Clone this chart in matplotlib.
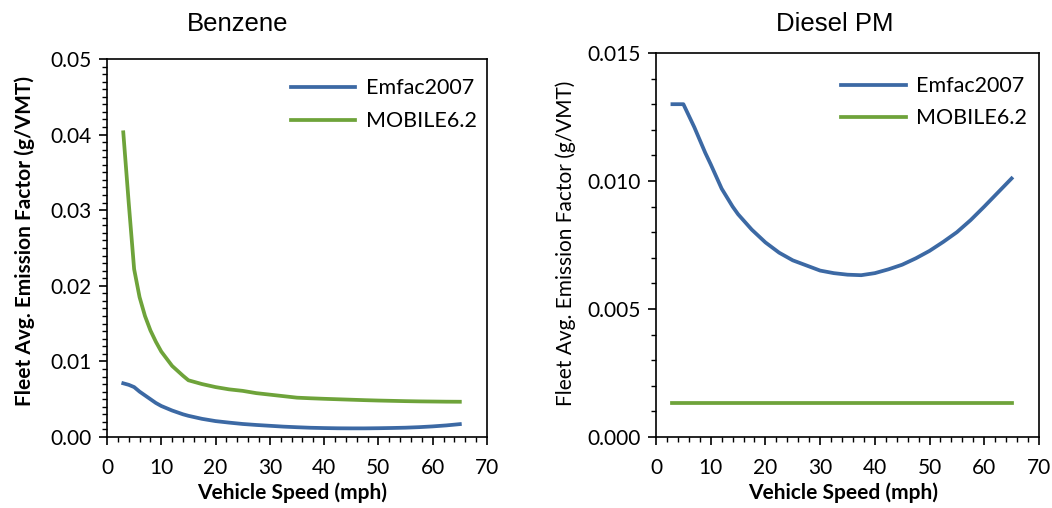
import matplotlib
matplotlib.use("Agg")
import matplotlib.pyplot as plt
from matplotlib.ticker import MultipleLocator, FormatStrFormatter

# speeds shared by every series (mph)
speed = [3, 4, 5, 6, 7, 8, 9, 10, 12, 14, 15, 17.5, 20, 22.5, 25, 27.5, 30, 32.5, 35,
         37.5, 40, 42.5, 45, 47.5, 50, 52.5, 55, 57.5, 60, 62.5, 65]

# Benzene, g/VMT
benzene_emfac = [0.0071, 0.0069, 0.0066, 0.0060, 0.0055, 0.0050, 0.0045, 0.0041, 0.0035,
                 0.0030, 0.0028, 0.0024, 0.0021, 0.00190, 0.00172, 0.00159, 0.00148, 0.00137,
                 0.00129, 0.00122, 0.00118, 0.00115, 0.00114, 0.00114, 0.00116, 0.00119,
                 0.00123, 0.00130, 0.00140, 0.00153, 0.0017]
benzene_mobile = [0.0403, 0.0310, 0.0222, 0.0185, 0.0160, 0.0141, 0.0126, 0.0113, 0.0094,
                  0.0081, 0.0075, 0.0070, 0.0066, 0.0063, 0.0061, 0.0058, 0.0056, 0.0054,
                  0.0052, 0.00512, 0.00505, 0.00499, 0.00493, 0.00487, 0.00482, 0.00478,
                  0.00474, 0.00471, 0.00469, 0.00467, 0.00466]

# Diesel PM, g/VMT
dpm_emfac = [0.0130, 0.0130, 0.0130, 0.01255, 0.0121, 0.0116, 0.0111, 0.01065, 0.0097,
             0.0090, 0.0087, 0.0081, 0.0076, 0.0072, 0.0069, 0.0067, 0.00650, 0.00640,
             0.00634, 0.00632, 0.00640, 0.00655, 0.00673, 0.00698, 0.00727, 0.00762,
             0.00800, 0.00847, 0.00900, 0.00955, 0.0101]
dpm_mobile = [0.00134] * len(speed)

series_names = ["Emfac2007", "MOBILE6.2"]
BLUE = "#3c69a4"
GREEN = "#6ea33a"

TITLE_FONT = "Liberation Sans"
BODY_FONT = "Lato"

fig = plt.figure(figsize=(10.52, 5.08), dpi=100)
ax1 = fig.add_axes([0.1017, 0.1398, 0.3612, 0.7441])
ax2 = fig.add_axes([0.6236, 0.1398, 0.3640, 0.7559])


def style_axis(ax, ymax, ymajor, yminor, yfmt):
    ax.set_xlim(0, 70)
    ax.set_ylim(0, ymax)
    ax.xaxis.set_major_locator(MultipleLocator(10))
    ax.xaxis.set_minor_locator(MultipleLocator(2))
    ax.yaxis.set_major_locator(MultipleLocator(ymajor))
    ax.yaxis.set_minor_locator(MultipleLocator(yminor))
    ax.yaxis.set_major_formatter(FormatStrFormatter(yfmt))
    ax.tick_params(which="major", direction="out", length=6, width=1.2,
                   labelsize=15)
    ax.tick_params(axis="x", which="major", pad=9)
    ax.tick_params(axis="y", which="major", pad=5)
    ax.tick_params(which="minor", direction="out", length=3.5, width=1.0)
    for lab in ax.get_xticklabels() + ax.get_yticklabels():
        lab.set_fontfamily(BODY_FONT)
    for sp in ax.spines.values():
        sp.set_linewidth(1.2)
        sp.set_color("black")


ax1.plot(speed, benzene_emfac, color=BLUE, lw=2.7, label=series_names[0])
ax1.plot(speed, benzene_mobile, color=GREEN, lw=2.7, label=series_names[1])
style_axis(ax1, 0.05, 0.01, 0.001, "%.2f")

ax2.plot(speed, dpm_emfac, color=BLUE, lw=2.7, label=series_names[0])
ax2.plot(speed, dpm_mobile, color=GREEN, lw=2.7, label=series_names[1])
style_axis(ax2, 0.015, 0.005, 0.001, "%.3f")

ax1.legend(loc="upper right", frameon=False, handlelength=3.0, handletextpad=0.5,
           labelspacing=0.6, bbox_to_anchor=(1.025, 1.0),
           prop={"family": BODY_FONT, "size": 15.5})
ax2.legend(loc="upper right", frameon=False, handlelength=3.0, handletextpad=0.5,
           labelspacing=0.55, bbox_to_anchor=(1.02, 0.99),
           prop={"family": BODY_FONT, "size": 15.5})

W, H = 1052, 508
ylab = "Fleet Avg. Emission Factor (g/VMT)"
fig.text(25 / W, 1 - 241 / H, ylab, family=BODY_FONT, fontsize=15, fontweight="bold",
         rotation=90, ha="center", va="center")
fig.text(566 / W, 1 - 243 / H, ylab, family=BODY_FONT, fontsize=15,
         rotation=90, ha="center", va="center")
fig.text(292 / W, 1 - 493 / H, "Vehicle Speed (mph)", family=BODY_FONT, fontsize=15,
         fontweight="bold", ha="center", va="center")
fig.text(843 / W, 1 - 493 / H, "Vehicle Speed (mph)", family=BODY_FONT, fontsize=15,
         fontweight="bold", ha="center", va="center")

fig.text(238 / W, 1 - 24 / H, "Benzene", family=TITLE_FONT, fontsize=18.5,
         ha="center", va="center")
fig.text(835 / W, 1 - 24 / H, "Diesel PM", family=TITLE_FONT, fontsize=18.5,
         ha="center", va="center")

fig.savefig("out.png", dpi=100)
